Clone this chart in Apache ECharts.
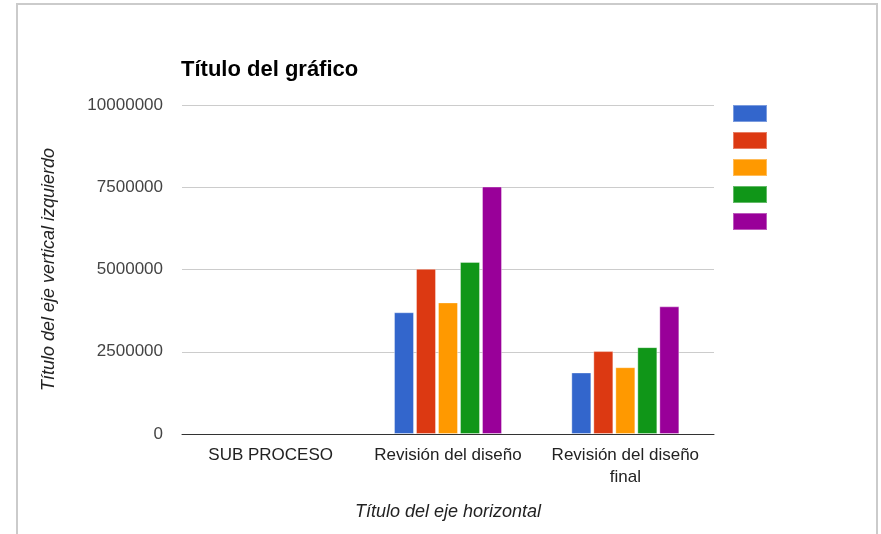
<!DOCTYPE html>
<html>
<head>
<meta charset="utf-8">
<script src="https://cdn.jsdelivr.net/npm/echarts@6/dist/echarts.min.js"></script>
<style>
  html, body { margin: 0; padding: 0; background: #fff; }
  #frame { position: absolute; left: 16px; top: 3px; width: 858px; height: 560px;
           border: 2px solid #cbcbcb; border-bottom: none; }
  #chart { position: absolute; left: 0; top: 0; width: 881px; height: 534px; }
</style>
</head>
<body>
<div id="frame"></div>
<div id="chart"></div>
<script>
// categorias del eje horizontal
var categories = ['SUB PROCESO', 'Revisión del diseño', 'Revisión del diseño\nfinal'];
// una serie por color (la leyenda no tiene texto)
var seriesNames = ['Serie 1', 'Serie 2', 'Serie 3', 'Serie 4', 'Serie 5'];
var serie1 = [null, 3700000, 1870000];
var serie2 = [null, 5020000, 2520000];
var serie3 = [null, 4000000, 2030000];
var serie4 = [null, 5230000, 2640000];
var serie5 = [null, 7520000, 3880000];
var colors = ['#3366cc', '#dc3912', '#ff9900', '#109618', '#990099'];

var values = [serie1, serie2, serie3, serie4, serie5];
var font = "'Liberation Sans', Arial, sans-serif";

var series = [];
for (var i = 0; i < values.length; i++) {
    series.push({
        name: seriesNames[i],
        type: 'bar',
        barWidth: 20,
        barGap: '10%',
        itemStyle: { color: colors[i], borderColor: 'rgba(255,255,255,0.35)', borderWidth: 1 },
        data: values[i]
    });
}

var chart = echarts.init(document.getElementById('chart'));
var option = {
    animation: false,
    color: colors,
    textStyle: { fontFamily: font },
    title: {
        text: 'Título del gráfico',
        left: 176,
        top: 54,
        textStyle: { fontSize: 22, fontWeight: 'bold', color: '#000', fontFamily: font }
    },
    legend: {
        orient: 'vertical',
        left: 732,
        top: 104,
        padding: 0,
        icon: 'rect',
        itemWidth: 34,
        itemHeight: 17,
        itemGap: 8,
        data: seriesNames,
        formatter: function () { return ''; },
        textStyle: { fontSize: 8, lineHeight: 8 }
    },
    grid: { left: 182, right: 167, top: 105, bottom: 100, containLabel: false },
    xAxis: {
        type: 'category',
        data: categories,
        name: 'Título del eje horizontal',
        nameLocation: 'middle',
        nameGap: 69,
        nameTextStyle: { fontStyle: 'italic', fontSize: 18, color: '#222', fontFamily: font },
        axisLine: { lineStyle: { color: '#333', width: 1 } },
        axisTick: { show: false },
        axisLabel: { fontSize: 17, color: '#222', margin: 10, lineHeight: 22, interval: 0 }
    },
    yAxis: {
        type: 'value',
        min: 0,
        max: 10000000,
        interval: 2500000,
        name: 'Título del eje vertical izquierdo',
        nameLocation: 'middle',
        nameGap: 124,
        nameTextStyle: { fontStyle: 'italic', fontSize: 18, color: '#222', fontFamily: font },
        axisLine: { show: false },
        axisTick: { show: false },
        splitLine: { lineStyle: { color: '#cccccc' } },
        axisLabel: {
            fontSize: 17, color: '#444', margin: 19,
            formatter: function (v) { return String(v); }
        }
    },
    series: series
};
chart.setOption(option);
</script>
</body>
</html>
